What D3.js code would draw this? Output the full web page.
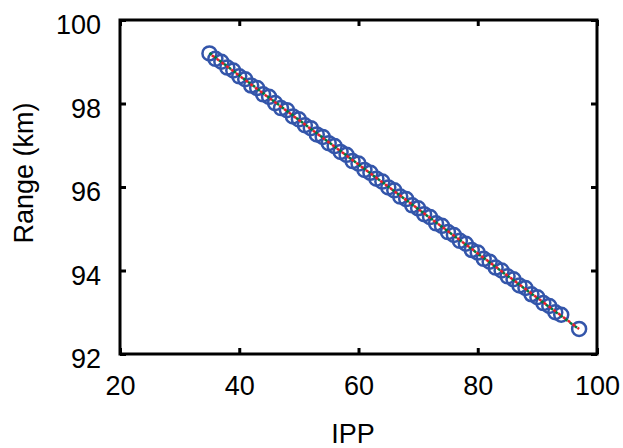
<!DOCTYPE html>
<html><head><meta charset="utf-8">
<script src="https://cdn.jsdelivr.net/npm/d3@7"></script>
<style>body{margin:0;background:#fff}svg{display:block}text{font-family:"Liberation Sans",Arial,sans-serif}</style>
</head><body>
<svg id="c" width="623" height="448"></svg>
<script>
const ipp = [35,36,37,38,39,40,41,42,43,44,45,46,47,48,49,50,51,52,53,54,55,56,57,58,59,60,61,62,63,64,65,66,67,68,69,70,71,72,73,74,75,76,77,78,79,80,81,82,83,84,85,86,87,88,89,90,91,92,93,94,97];
const range = [99.20,99.07,99.00,98.86,98.79,98.65,98.58,98.43,98.37,98.22,98.16,98.01,97.89,97.84,97.69,97.62,97.48,97.41,97.26,97.20,97.05,96.98,96.84,96.77,96.62,96.56,96.41,96.34,96.20,96.13,95.99,95.92,95.77,95.71,95.56,95.49,95.35,95.28,95.13,95.07,94.92,94.85,94.71,94.64,94.49,94.43,94.28,94.21,94.07,94.00,93.86,93.79,93.64,93.58,93.43,93.36,93.22,93.15,93.00,92.94,92.60];
const fitRed = [[35,99.20],[97,92.60]];
const fitGreen = [[35,99.21],[97,92.59]];
const xTicks = [20,40,60,80,100];
const yTicks = [92,94,96,98,100];

const svg = d3.select("#c");
const L=120,R=597,T=20,B=354;
const x = d3.scaleLinear().domain([20,100]).range([L,R]);
const y = d3.scaleLinear().domain([92,100]).range([B,T]);

const fs = 27;
const gx = svg.append("g").attr("transform",`translate(0,${B})`)
  .call(d3.axisBottom(x).tickValues(xTicks).tickSizeInner(-6).tickSizeOuter(0).tickPadding(22));
const gxt = svg.append("g").attr("transform",`translate(0,${T})`)
  .call(d3.axisTop(x).tickValues(xTicks).tickSizeInner(-6).tickSizeOuter(0).tickFormat(""));
const gy = svg.append("g").attr("transform",`translate(${L},0)`)
  .call(d3.axisLeft(y).tickValues(yTicks).tickSizeInner(-6).tickSizeOuter(0).tickPadding(19));
const gyr = svg.append("g").attr("transform",`translate(${R},0)`)
  .call(d3.axisRight(y).tickValues(yTicks).tickSizeInner(-6).tickSizeOuter(0).tickFormat(""));
[gx,gxt,gy,gyr].forEach(g=>{
  g.select(".domain").remove();
  g.selectAll(".tick line").attr("stroke","#000").attr("stroke-width",3);
  g.selectAll("text").attr("font-size",fs).attr("font-family","Liberation Sans, Arial, sans-serif").attr("fill","#000");
});
gy.selectAll("text").attr("dy","0.5em");
gx.selectAll("text").attr("dy","0.71em");
svg.append("rect").attr("x",L).attr("y",T).attr("width",R-L).attr("height",B-T)
  .attr("fill","none").attr("stroke","#000").attr("stroke-width",3);

svg.append("g").selectAll("circle").data(ipp.map((v,i)=>[v,range[i]])).join("circle")
  .attr("cx",d=>x(d[0])).attr("cy",d=>y(d[1])).attr("r",7)
  .attr("fill","none").attr("stroke","#3355aa").attr("stroke-width",2.5);

const line = d3.line().x(d=>x(d[0])).y(d=>y(d[1]));
svg.append("path").attr("d",line(fitGreen)).attr("fill","none").attr("stroke","#007a3d")
  .attr("stroke-width",2.5).attr("stroke-dasharray","3,3");
svg.append("path").attr("d",line(fitRed)).attr("fill","none").attr("stroke","#e8202a")
  .attr("stroke-width",2.5).attr("stroke-dasharray","3,3").attr("stroke-dashoffset",3);

svg.append("text").attr("x",353).attr("y",443).attr("text-anchor","middle")
  .attr("font-size",fs).text("IPP");
svg.append("text").attr("transform","translate(33,173) rotate(-90)").attr("text-anchor","middle")
  .attr("font-size",fs).text("Range (km)");
</script>
</body></html>
